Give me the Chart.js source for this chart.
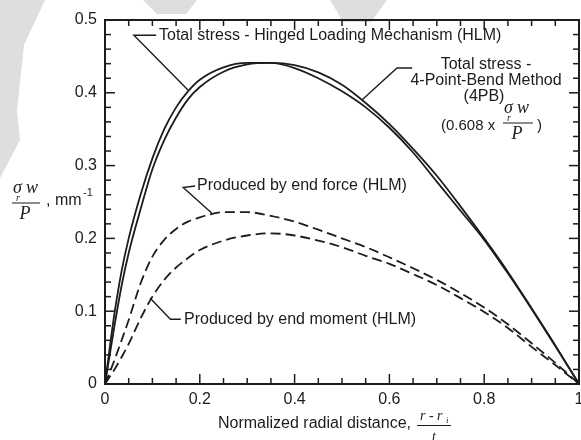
<!DOCTYPE html>
<html>
<head>
<meta charset="utf-8">
<script src="https://cdn.jsdelivr.net/npm/chart.js@4.4.1/dist/chart.umd.min.js"></script>
<style>
  html, body { margin: 0; padding: 0; background: #fff; overflow: hidden; }
  canvas { display: block; }
</style>
</head>
<body>
<canvas id="chart" width="581" height="440"></canvas>
<script>
// Normalized radial distance (r - ri) / t
const radialDistance = [0, 0.01, 0.02, 0.035, 0.05, 0.075, 0.1, 0.125, 0.15, 0.175, 0.2, 0.25, 0.3, 0.35, 0.4, 0.45, 0.5, 0.55, 0.6, 0.65, 0.7, 0.75, 0.8, 0.85, 0.9, 0.95, 1];

// Radial stress, sigma_r * w / P  (mm^-1)
const totalHLM  = [0, 0.050, 0.097, 0.155, 0.200, 0.260, 0.310, 0.350, 0.380, 0.402, 0.418, 0.435, 0.441, 0.441, 0.434, 0.420, 0.402, 0.380, 0.352, 0.318, 0.278, 0.238, 0.198, 0.152, 0.103, 0.052, 0];
const total4PB  = [0, 0.040, 0.080, 0.135, 0.180, 0.240, 0.295, 0.335, 0.366, 0.391, 0.408, 0.429, 0.439, 0.441, 0.438, 0.428, 0.411, 0.386, 0.357, 0.323, 0.286, 0.244, 0.200, 0.154, 0.104, 0.053, 0];
const endForce  = [0, 0.016, 0.033, 0.060, 0.088, 0.138, 0.175, 0.198, 0.213, 0.223, 0.229, 0.236, 0.236, 0.231, 0.223, 0.212, 0.200, 0.188, 0.174, 0.159, 0.143, 0.125, 0.105, 0.082, 0.056, 0.029, 0];
const endMoment = [0, 0.010, 0.020, 0.037, 0.055, 0.090, 0.120, 0.143, 0.160, 0.173, 0.184, 0.197, 0.204, 0.207, 0.204, 0.197, 0.188, 0.176, 0.165, 0.151, 0.136, 0.118, 0.099, 0.077, 0.051, 0.026, 0];

// Axis tick labels
const xTickLabels = ['0', '0.2', '0.4', '0.6', '0.8', '1'];
const yTickLabels = ['0', '0.1', '0.2', '0.3', '0.4', '0.5'];

const INK = '#1c1c1c';
const SANS = '"Liberation Sans", Arial, Helvetica, sans-serif';
const SERIF = '"Liberation Serif", "Times New Roman", serif';

function points(values) {
  return radialDistance.map((x, i) => ({ x: x, y: values[i] }));
}

function curve(values, dashed) {
  return {
    data: points(values),
    borderColor: INK,
    borderWidth: 1.8,
    borderDash: dashed ? [10, 5] : [],
    pointRadius: 0,
    fill: false,
    cubicInterpolationMode: 'monotone'
  };
}

function seg(ctx, pts) {
  ctx.beginPath();
  ctx.moveTo(pts[0][0], pts[0][1]);
  for (let i = 1; i < pts.length; i++) ctx.lineTo(pts[i][0], pts[i][1]);
  ctx.stroke();
}

// Faint grey background marks behind the plot
const backdrop = {
  id: 'backdrop',
  beforeDraw(chart) {
    const ctx = chart.ctx;
    ctx.save();
    ctx.fillStyle = '#ffffff';
    ctx.fillRect(0, 0, chart.width, chart.height);
    ctx.fillStyle = '#dedede';
    const shapes = [
      [[0, 0], [45, 0], [24, 45], [17, 110], [20, 140], [0, 178]],
      [[143, 0], [197, 0], [186, 14], [157, 14]],
      [[330, 0], [387, 0], [371, 22], [343, 22]]
    ];
    shapes.forEach(s => {
      ctx.beginPath();
      ctx.moveTo(s[0][0], s[0][1]);
      s.slice(1).forEach(p => ctx.lineTo(p[0], p[1]));
      ctx.closePath();
      ctx.fill();
    });
    ctx.restore();
  }
};

// Plot frame with inward tick marks on all four sides
const frame = {
  id: 'frame',
  afterDatasetsDraw(chart) {
    const { ctx, chartArea: a, scales } = chart;
    const xs = scales.x, ys = scales.y;
    ctx.save();
    ctx.strokeStyle = INK;
    ctx.lineCap = 'butt';
    ctx.lineWidth = 1.5;
    for (let i = 0; i <= 20; i++) {
      const px = xs.getPixelForValue(i * 0.05);
      const len = i % 4 === 0 ? 10 : 6;
      seg(ctx, [[px, a.bottom], [px, a.bottom - len]]);
      seg(ctx, [[px, a.top], [px, a.top + len]]);
    }
    for (let i = 0; i <= 25; i++) {
      const py = ys.getPixelForValue(i * 0.02);
      const len = i % 5 === 0 ? 10 : 6;
      seg(ctx, [[a.left, py], [a.left + len, py]]);
      seg(ctx, [[a.right, py], [a.right - len, py]]);
    }
    ctx.lineWidth = 2;
    ctx.strokeRect(a.left, a.top, a.right - a.left, a.bottom - a.top);
    ctx.restore();
  }
};

// Fraction sigma_r w / P drawn at a given left edge and bar height
function sigmaFraction(ctx, left, barY, width) {
  ctx.font = 'italic 18px ' + SERIF;
  ctx.textAlign = 'left';
  ctx.textBaseline = 'alphabetic';
  ctx.fillText('\u03C3', left + 1, barY - 10);
  ctx.fillText('w', left + 14, barY - 10);
  ctx.font = 'italic 10px ' + SERIF;
  ctx.fillText('r', left + 4, barY - 2);
  ctx.lineWidth = 1;
  seg(ctx, [[left, barY], [left + width, barY]]);
  ctx.font = 'italic 18px ' + SERIF;
  ctx.textAlign = 'center';
  ctx.fillText('P', left + width / 2 - 1, barY + 16);
}

// Labels, leader lines and axis titles
const notes = {
  id: 'notes',
  afterDraw(chart) {
    const { ctx, scales } = chart;
    const X = v => scales.x.getPixelForValue(v);
    const Y = v => scales.y.getPixelForValue(v);
    ctx.save();
    ctx.fillStyle = INK;
    ctx.strokeStyle = INK;
    ctx.lineWidth = 1.4;

    // Total stress (HLM)
    seg(ctx, [[X(0.108), Y(0.479)], [X(0.061), Y(0.479)], [X(0.175), Y(0.404)]]);
    ctx.font = '16px ' + SANS;
    ctx.textAlign = 'left';
    ctx.textBaseline = 'middle';
    ctx.fillText('Total stress - Hinged Loading Mechanism (HLM)', 159, 36);

    // Total stress (4PB)
    seg(ctx, [[X(0.648), Y(0.434)], [X(0.616), Y(0.434)], [X(0.542), Y(0.390)]]);
    ctx.textAlign = 'center';
    ctx.fillText('Total stress -', 486, 65);
    ctx.fillText('4-Point-Bend Method', 486, 81);
    ctx.fillText('(4PB)', 484, 97);
    ctx.textAlign = 'left';
    ctx.font = '15px ' + SANS;
    ctx.fillText('(0.608 x', 441, 126);
    ctx.fillText(')', 537, 126);
    sigmaFraction(ctx, 503, 123, 30);

    // Produced by end force
    ctx.lineWidth = 1.4;
    seg(ctx, [[X(0.19), Y(0.272)], [X(0.165), Y(0.27)], [X(0.225), Y(0.235)]]);
    ctx.font = '16px ' + SANS;
    ctx.textAlign = 'left';
    ctx.textBaseline = 'middle';
    ctx.fillText('Produced by end force (HLM)', 197, 186);

    // Produced by end moment
    seg(ctx, [[X(0.160), Y(0.089)], [X(0.138), Y(0.089)], [X(0.095), Y(0.118)]]);
    ctx.fillText('Produced by end moment (HLM)', 184, 320);

    // X axis title
    ctx.fillText('Normalized radial distance,', 218, 424);
    ctx.font = 'italic 14px ' + SERIF;
    ctx.fillText('r - r', 420, 416);
    ctx.font = 'italic 9px ' + SERIF;
    ctx.fillText('i', 446, 421);
    ctx.lineWidth = 1;
    seg(ctx, [[417, 425.5], [451, 425.5]]);
    ctx.font = 'italic 14px ' + SERIF;
    ctx.textAlign = 'center';
    ctx.fillText('t', 434, 437);

    // Y axis title
    sigmaFraction(ctx, 12, 203, 28);
    ctx.font = '16px ' + SANS;
    ctx.textAlign = 'left';
    ctx.textBaseline = 'middle';
    ctx.fillText(', mm', 46, 201);
    ctx.font = '11px ' + SANS;
    ctx.fillText('-1', 83, 193);
    ctx.restore();
  }
};

new Chart(document.getElementById('chart'), {
  type: 'line',
  data: {
    datasets: [
      curve(totalHLM, false),
      curve(total4PB, false),
      curve(endForce, true),
      curve(endMoment, true)
    ]
  },
  options: {
    responsive: false,
    animation: false,
    devicePixelRatio: 1,
    layout: { padding: { top: 20, right: 2, left: 0, bottom: 0 } },
    plugins: { legend: { display: false }, tooltip: { enabled: false } },
    scales: {
      x: {
        type: 'linear',
        min: 0,
        max: 1,
        afterBuildTicks(s) { s.ticks = xTickLabels.map(t => ({ value: parseFloat(t) })); },
        ticks: {
          autoSkip: false,
          maxRotation: 0,
          padding: 6,
          color: INK,
          font: { family: SANS, size: 16 },
          callback: (v, i) => xTickLabels[i]
        },
        grid: { display: false, drawTicks: false },
        border: { display: false },
        afterFit(s) { s.height = 56; s.paddingLeft = 0; s.paddingRight = 0; }
      },
      y: {
        type: 'linear',
        min: 0,
        max: 0.5,
        afterBuildTicks(s) { s.ticks = yTickLabels.map(t => ({ value: parseFloat(t) })); },
        ticks: {
          autoSkip: false,
          padding: 8,
          color: INK,
          font: { family: SANS, size: 16 },
          callback: (v, i) => yTickLabels[i]
        },
        grid: { display: false, drawTicks: false },
        border: { display: false },
        afterFit(s) { s.width = 105; s.paddingTop = 0; s.paddingBottom = 0; }
      }
    }
  },
  plugins: [backdrop, frame, notes]
});
</script>
</body>
</html>
